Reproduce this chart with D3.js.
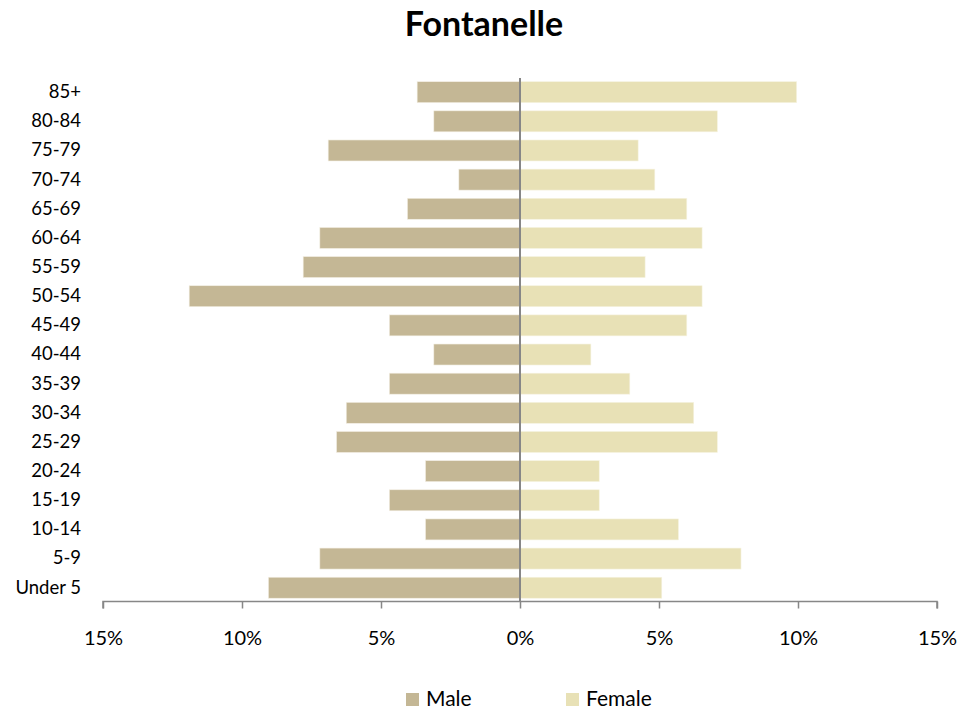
<!DOCTYPE html>
<html>
<head>
<meta charset="utf-8">
<script src="https://cdn.jsdelivr.net/npm/d3@7"></script>
<style>
  body { margin: 0; background: #fff; }
  text { font-family: Lato, "Open Sans", sans-serif; fill: #000; }
</style>
</head>
<body>
<svg id="pyramid" width="979" height="713"></svg>
<script>
// age groups, top to bottom
const ageGroups = ["85+", "80-84", "75-79", "70-74", "65-69", "60-64", "55-59", "50-54", "45-49",
  "40-44", "35-39", "30-34", "25-29", "20-24", "15-19", "10-14", "5-9", "Under 5"];
// percent of population
const maleValues = [3.7, 3.1, 6.9, 2.2, 4.05, 7.2, 7.8, 11.9, 4.7,
  3.1, 4.7, 6.25, 6.6, 3.4, 4.7, 3.4, 7.2, 9.05];
const femaleValues = [9.95, 7.1, 4.25, 4.85, 6.0, 6.55, 4.5, 6.55, 6.0,
  2.55, 3.95, 6.25, 7.1, 2.85, 2.85, 5.7, 7.95, 5.1];
const xTicks = [-15, -10, -5, 0, 5, 10, 15];

const svg = d3.select("#pyramid");
const maleColor = "#c4b795";
const femaleColor = "#e8e1b6";
const axisColor = "#878787";

const x = d3.scaleLinear().domain([-15, 15]).range([103, 937]);
const y = d3.scaleBand().domain(ageGroups).range([77.6, 602.3])
  .paddingInner(0.28).paddingOuter(0.14);

const male = ageGroups.map((g, i) => ({ group: g, value: maleValues[i] }));
const female = ageGroups.map((g, i) => ({ group: g, value: femaleValues[i] }));

// title
svg.append("text")
  .attr("x", 484).attr("y", 36)
  .attr("text-anchor", "middle")
  .style("font-size", "34px").style("font-weight", "bold")
  .text("Fontanelle");

const g = svg.append("g");

g.selectAll("rect.male")
  .data(male)
  .enter().append("rect")
  .attr("class", "male")
  .attr("x", d => x(-d.value))
  .attr("y", d => y(d.group))
  .attr("width", d => x(0) - x(-d.value))
  .attr("height", y.bandwidth())
  .attr("fill", maleColor)
  .attr("stroke", "#f3efe4").attr("stroke-width", 0.6);

g.selectAll("rect.female")
  .data(female)
  .enter().append("rect")
  .attr("class", "female")
  .attr("x", x(0))
  .attr("y", d => y(d.group))
  .attr("width", d => x(d.value) - x(0))
  .attr("height", y.bandwidth())
  .attr("fill", femaleColor)
  .attr("stroke", "#f6f3e2").attr("stroke-width", 0.6);

// zero line
g.append("line")
  .attr("x1", x(0)).attr("x2", x(0))
  .attr("y1", 78).attr("y2", 601.5)
  .attr("stroke", axisColor).attr("stroke-width", 2);

// bottom axis
const xAxis = d3.axisBottom(x)
  .tickValues(xTicks)
  .tickSize(7)
  .tickPadding(22)
  .tickFormat(d => Math.abs(d) + "%");

const ax = svg.append("g")
  .attr("transform", "translate(0,601.5)")
  .call(xAxis);
ax.select(".domain").attr("stroke", axisColor).attr("stroke-width", 1.5)
  .attr("d", `M${x(-15)},7V0H${x(15)}V7`);
ax.selectAll(".tick line").attr("stroke", axisColor).attr("stroke-width", 1.5);
ax.selectAll(".tick text")
  .style("font-family", "Lato, sans-serif")
  .style("font-size", "20px").attr("fill", "#000");

// left category labels
const ay = svg.append("g")
  .attr("transform", "translate(81,0)")
  .call(d3.axisLeft(y).tickSize(0).tickPadding(0));
ay.select(".domain").remove();
ay.selectAll(".tick text")
  .style("font-family", "Lato, sans-serif")
  .style("font-size", "18.5px").attr("fill", "#000");

// legend
const legendItems = [
  { name: "Male", color: maleColor, x: 406 },
  { name: "Female", color: femaleColor, x: 566 }
];
const lg = svg.selectAll("g.legend")
  .data(legendItems)
  .enter().append("g")
  .attr("class", "legend")
  .attr("transform", d => `translate(${d.x},693)`);
lg.append("rect")
  .attr("width", 13).attr("height", 13)
  .attr("fill", d => d.color);
lg.append("text")
  .attr("x", 20).attr("y", 13)
  .style("font-size", "21px")
  .text(d => d.name);
</script>
</body>
</html>
